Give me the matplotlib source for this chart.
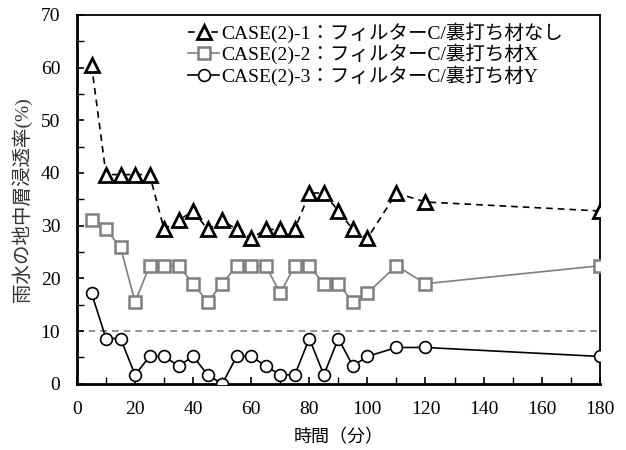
import matplotlib
matplotlib.use("Agg")
import matplotlib.pyplot as plt
from matplotlib.ticker import MultipleLocator

plt.rcParams['font.family'] = ['Liberation Serif', 'Noto Sans CJK JP']

# elapsed time (min)
minutes = [5, 10, 15, 20, 25, 30, 35, 40, 45, 50, 55, 60, 65, 70, 75,
           80, 85, 90, 95, 100, 110, 120, 180]

# infiltration ratio (%)
case1 = [60.5, 39.7, 39.7, 39.7, 39.7, 29.3, 31.0, 32.8, 29.3, 31.0, 29.3, 27.6,
         29.3, 29.3, 29.3, 36.2, 36.2, 32.8, 29.3, 27.6, 36.2, 34.5, 32.8]
case2 = [31.0, 29.3, 25.9, 15.5, 22.4, 22.4, 22.4, 19.0, 15.5, 19.0, 22.4, 22.4,
         22.4, 17.2, 22.4, 22.4, 19.0, 19.0, 15.5, 17.2, 22.4, 19.0, 22.4]
case3 = [17.2, 8.6, 8.6, 1.7, 5.2, 5.2, 3.4, 5.2, 1.7, 0.0, 5.2, 5.2,
         3.4, 1.7, 1.7, 8.6, 1.7, 8.6, 3.4, 5.2, 6.9, 6.9, 5.2]

labels = ["CASE(2)-1：フィルターC/裏打ち材なし",
          "CASE(2)-2：フィルターC/裏打ち材X",
          "CASE(2)-3：フィルターC/裏打ち材Y"]
threshold = 10

fig = plt.figure(figsize=(6.26, 4.5), dpi=100)
ax = fig.add_axes([0.123, 0.147, 0.835, 0.82])

gray = '#7f7f7f'
ax.axhline(threshold, color=gray, lw=1.2, ls=(0, (4, 3)), zorder=1)

ax.plot(minutes, case1, color='black', lw=1.2, ls=(0, (4, 3)), marker='^',
        ms=9.5, mfc='white', mec='black', mew=2.0, label=labels[0], zorder=3)
ax.plot(minutes, case2, color=gray, lw=1.2, marker='s',
        ms=9, mfc='white', mec=gray, mew=1.8, label=labels[1], zorder=3)
ax.plot(minutes, case3, color='black', lw=1.2, marker='o',
        ms=8.5, mfc='white', mec='black', mew=1.2, label=labels[2], zorder=3)

ax.set_xlim(0, 180)
ax.set_ylim(0, 70)
ax.xaxis.set_major_locator(MultipleLocator(20))
ax.xaxis.set_minor_locator(MultipleLocator(10))
ax.yaxis.set_major_locator(MultipleLocator(10))
ax.yaxis.set_minor_locator(MultipleLocator(5))
ax.tick_params(which='both', direction='in', labelsize=14, top=False, right=False)
ax.tick_params(which='major', length=5, width=1.2)
ax.tick_params(which='minor', length=5, width=1.0)
ax.tick_params(axis='x', which='major', pad=12)
ax.tick_params(axis='y', which='major', pad=12)

for side in ['left', 'bottom']:
    ax.spines[side].set_linewidth(2.0)
for side in ['top', 'right']:
    ax.spines[side].set_linewidth(1.3)

ax.set_xlabel("時間（分）", fontsize=13, labelpad=8)
ax.set_ylabel("雨水の地中層浸透率(%)", fontsize=14, labelpad=6, color='#333333')

ax.legend(loc='upper left', bbox_to_anchor=(0.205, 0.99), frameon=False,
          fontsize=14, handlelength=1.6, handletextpad=0.1,
          labelspacing=0.05, borderaxespad=0.0, borderpad=0.2)

fig.savefig("out.png", dpi=100)
